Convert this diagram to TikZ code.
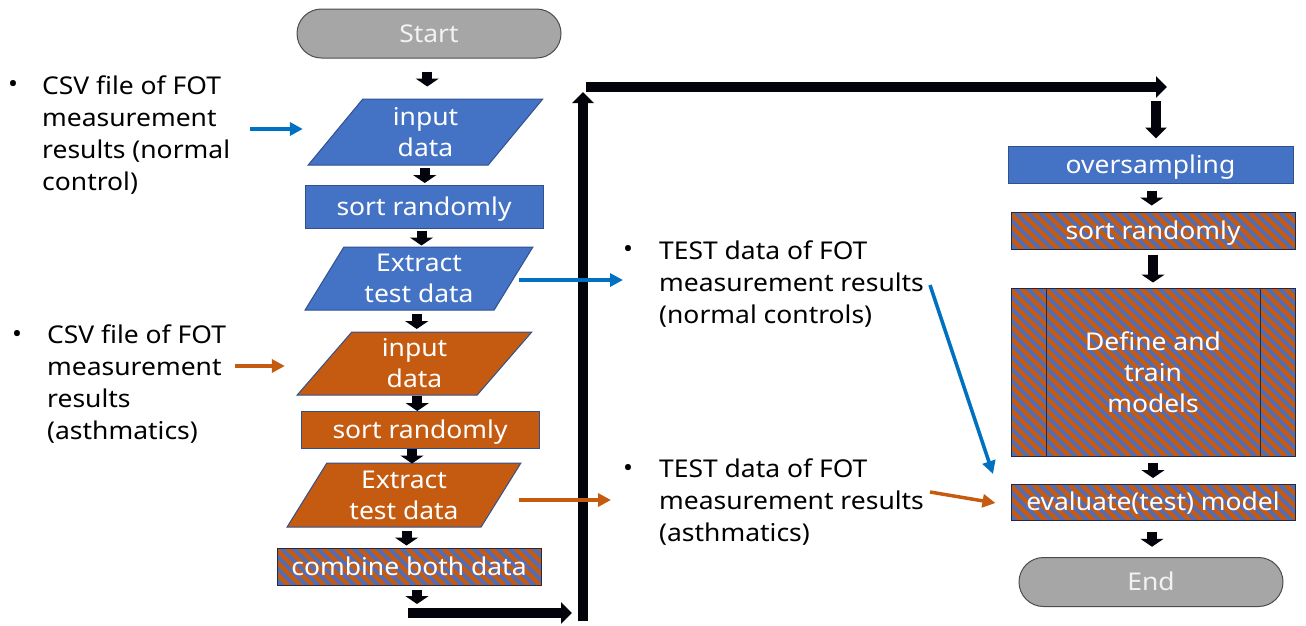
\documentclass[tikz,border=0pt]{standalone}
\usepackage{fontspec}
\setmainfont{Noto Sans}[FakeStretch=1.08]
\usetikzlibrary{arrows.meta,shapes.geometric,shapes.misc,calc}
\definecolor{boxblue}{HTML}{4472C4}
\definecolor{boxorange}{HTML}{C55A11}
\definecolor{stripeblue}{HTML}{4F6DB8}
\definecolor{lineblue}{HTML}{0070C0}
\definecolor{edgeblue}{HTML}{2F528F}
\definecolor{edgenavy}{HTML}{1F2A44}
\definecolor{termgray}{HTML}{A6A6A6}
\definecolor{arrowink}{HTML}{03030C}
\begin{document}
\begin{tikzpicture}[x=1pt,y=-1pt,
  txt/.style={font=\fontsize{24.5}{32}\selectfont},
  intxt/.style={font=\fontsize{24.5}{31}\selectfont, text=white, align=center, inner sep=0pt},
  oneline/.style={text height=21pt, text depth=3.5pt},
  terminal/.style={intxt, oneline, rounded rectangle, fill=termgray, draw=black!70, line width=1pt,
    minimum width=264, minimum height=49, text=white!95!black},
  procblue/.style={intxt, oneline, rectangle, fill=boxblue, draw=edgeblue, line width=1pt, minimum height=37},
  io/.style={intxt, trapezium, trapezium left angle=60, trapezium right angle=120,
    trapezium stretches=true, draw=edgeblue, line width=1pt},
  hatchbox/.style={intxt, rectangle, fill=boxorange, draw=edgenavy, line width=1pt, minimum height=37,
    path picture={
      \foreach \i in {-200,-188,...,320}
        \draw[stripeblue, line width=3.8pt]
          ([xshift=\i pt]path picture bounding box.north west) -- ++(220,220);
    }},
  blk/.style={arrowink, line width=10pt, -{Triangle[width=23pt,length=8pt]}},
  bigblk/.style={arrowink, line width=9.5pt, -{Triangle[width=21pt,length=11pt]}},
  barrow/.style={lineblue, line width=3.5pt, -{Triangle[width=13pt,length=13pt]}},
  oarrow/.style={boxorange, line width=3.5pt, -{Triangle[width=13pt,length=13pt]}},
  bul/.style={txt, inner sep=0pt},
  note/.style={txt, align=left, anchor=north west, inner sep=0pt},
]
\useasboundingbox (0,0) rectangle (1306,625);

% ---------- left column: preprocessing ----------
\node[terminal] (start) at (429,33.5) {Start};
\node[io, fill=boxblue, minimum width=235, minimum height=66] (in1) at (425.5,132) {input\\data};
\node[procblue, minimum width=238, minimum height=43] (sr1) at (424,206.5) {sort randomly};
\node[io, fill=boxblue, minimum width=228, minimum height=63] (ex1) at (419,278.5) {Extract\\test data};
\node[io, fill=boxorange, minimum width=235, minimum height=63] (in2) at (414.5,363.5) {input\\data};
\node[procblue, fill=boxorange, minimum width=238] (sr2) at (420,429.5) {sort randomly};
\node[io, fill=boxorange, minimum width=234, minimum height=64] (ex2) at (404,495) {Extract\\test data};
\node[hatchbox, oneline, minimum width=264] (comb) at (409,566.5) {combine both data};

% ---------- right column: training ----------
\node[procblue, minimum width=285] (over) at (1150.5,164.5) {oversampling};
\node[hatchbox, oneline, minimum width=284] (sr3) at (1153,230.5) {sort randomly};
\node[hatchbox, minimum width=284, minimum height=168] (train) at (1153,372) {Define and\\train\\models};
\draw[edgenavy, line width=1pt] ([xshift=36]train.north west) -- ([xshift=36]train.south west);
\draw[edgenavy, line width=1pt] ([xshift=-35]train.north east) -- ([xshift=-35]train.south east);
\node[hatchbox, oneline, minimum width=284, minimum height=36] (eval) at (1153,502) {evaluate(test) model};
\node[terminal] (end) at (1151,582) {End};

% ---------- notes ----------
\node[bul] (b1) at (13,87) {•};
\node[note] (csv1) at (42,76) {CSV file of FOT\\measurement\\results (normal\\control)};
\node[bul] (b2) at (17,337) {•};
\node[note] (csv2) at (47,325) {CSV file of FOT\\measurement\\results\\(asthmatics)};
\node[bul] (b3) at (628,252) {•};
\node[note] (test1) at (659,241) {TEST data of FOT\\measurement results\\(normal controls)};
\node[bul] (b4) at (628,470) {•};
\node[note] (test2) at (659,459) {TEST data of FOT\\measurement results\\(asthmatics)};

% ---------- short block arrows ----------
\foreach \a/\b in {start/in1, in1/sr1, sr1/ex1, ex1/in2, in2/sr2, sr2/ex2, ex2/comb,
                   over/sr3, train/eval, eval/end}
  \draw[blk] ($(\a.south)!.5!(\b.north)$) ++(0,-7) -- ++(0,15);
\draw[blk] ($(sr3.south)!.5!(train.north)$) ++(0,-14) -- ++(0,28);
\coordinate (c0) at (417,590);
\draw[blk] (c0) -- ++(0,14);

% ---------- long block arrows ----------
\coordinate (r0) at (408,613);
\coordinate (r1) at (572,613);
\coordinate (u0) at (583,621);
\coordinate (u1) at (583,92);
\coordinate (t0) at (586,87);
\coordinate (t1) at (1167,87);
\coordinate (d0) at (1156,101);
\draw[bigblk] (r0) -- (r1);
\draw[bigblk] (u0) -- (u1);
\draw[bigblk] (t0) -- (t1);
\draw[bigblk, shorten >=7pt] (d0) -- (d0 |- over.north);

% ---------- data flow arrows ----------
\coordinate (a1) at (250,129);
\draw[barrow, shorten >=32pt] (a1) -- (a1 -| in1.west);
\coordinate (a2) at (623,280);
\draw[barrow, shorten <=5pt] (a2 -| ex1.east) -- (a2);
\coordinate (a3s) at (930,285);
\coordinate (a3e) at (993,474);
\draw[barrow] (a3s) -- (a3e);
\coordinate (a4) at (235,366);
\draw[oarrow, shorten >=39pt] (a4) -- (a4 -| in2.west);
\coordinate (a5) at (611,500);
\draw[oarrow, shorten <=17pt] (a5 -| ex2.east) -- (a5);
\coordinate (a6) at (930,492);
\draw[oarrow] (a6) -- ([shift={(-15,1)}]eval.west);
\end{tikzpicture}
\end{document}
